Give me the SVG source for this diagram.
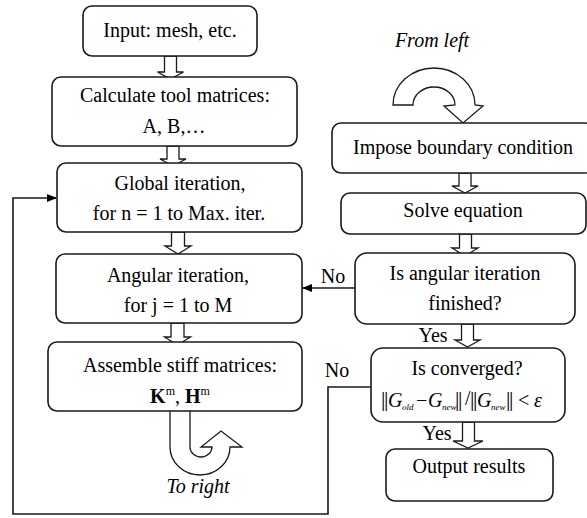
<svg xmlns="http://www.w3.org/2000/svg" width="587" height="518" viewBox="0 0 587 518">
<style>
.box{fill:#fff;stroke:#1a1a1a;stroke-width:1.6}
text{font-family:'Liberation Serif','DejaVu Serif',serif;font-size:20px;fill:#000}
.t{text-anchor:middle}
.ti{font-style:italic}
.hol{fill:#fff;stroke:#1a1a1a;stroke-width:1.3;stroke-linejoin:miter}
.ln{fill:none;stroke:#1a1a1a;stroke-width:1.6}
.fi{font-style:italic}
.fs{font-size:9px;font-style:italic}
.bar{font-size:22px}
</style>
<defs>
<marker id="ah" markerWidth="10" markerHeight="10" refX="9" refY="5" orient="auto" markerUnits="userSpaceOnUse"><path d="M0,1 L10,5 L0,9 Z" fill="#000"/></marker>
</defs>

<g id="connectors">
<path class="hol" d="M164.5,56 V72 H157.5 L170.5,79 L183.5,72 H176.5 V56 Z"/>
<path class="hol" d="M167,146 V159 H160 L173,166 L186,159 H179 V146 Z"/>
<path class="hol" d="M171.5,232 V246 H165 L178,254 L191,246 H184.5 V232 Z"/>
<path class="hol" d="M171,323 V337 H164.5 L177.5,345 L190.5,337 H184 V323 Z"/>
<path class="hol" d="M170,411 L170,447 A30,28 0 0 0 230,447 L242,447 L221,431 L201,447 L212,447 A11,10 0 0 1 190,447 L190,411"/>
<path class="hol" d="M393,105 A41,37 0 0 1 475,105 L483,106 L463,123 L444,106 L455,105 A21,18 0 0 0 413,105 Z"/>
<path class="hol" d="M459,173 V186 H452 L465,193 L478,186 H471 V173 Z"/>
<path class="hol" d="M459.5,234 V248 H452 L465,256 L478,248 H471.5 V234 Z"/>
<path class="hol" d="M461.5,324 V340 H455 L467.5,347 L480,340 H473.5 V324 Z"/>
<path class="hol" d="M462.5,422 V441 H453 L468,448 L483,441 H474.5 V422 Z"/>
<line class="ln" x1="355" y1="288" x2="303" y2="288" marker-end="url(#ah)"/>
<polyline class="ln" points="371,387 328,387 328,514 13,514 13,198 56,198" marker-end="url(#ah)"/>
</g>

<g id="input"><rect class="box" x="83" y="6" width="174" height="50" rx="9"/><text class="t" x="170" y="37">Input: mesh, etc.</text></g>
<g id="calc"><rect class="box" x="52" y="77" width="245" height="69" rx="9"/><text class="t" x="175" y="102">Calculate tool matrices:</text><text class="t" x="174" y="133">A, B,…</text></g>
<g id="global"><rect class="box" x="57" y="163" width="245" height="69" rx="9"/><text class="t" x="180" y="190">Global iteration,</text><text class="t" x="179" y="220">for n = 1 to Max. iter.</text></g>
<g id="angular"><rect class="box" x="56" y="254" width="246" height="69" rx="9"/><text class="t" x="178" y="282">Angular iteration,</text><text class="t" x="178" y="312">for j = 1 to M</text></g>
<g id="assemble"><rect class="box" x="48" y="342" width="254" height="69" rx="9"/><text class="t" x="180" y="372">Assemble stiff matrices:</text><text class="t" x="180" y="403"><tspan font-weight="bold">K</tspan><tspan font-size="12" dy="-8">m</tspan><tspan dy="8">, </tspan><tspan font-weight="bold">H</tspan><tspan font-size="12" dy="-8">m</tspan></text></g>
<g id="toright"><text class="t ti" x="198" y="493">To right</text></g>
<g id="fromleft"><text class="t ti" x="432" y="47">From left</text></g>
<g id="impose"><rect class="box" x="332" y="123" width="262" height="50" rx="9"/><text class="t" x="463" y="154">Impose boundary condition</text></g>
<g id="solve"><rect class="box" x="341" y="193" width="245" height="41" rx="9"/><text class="t" x="463" y="217">Solve equation</text></g>
<g id="isangular"><rect class="box" x="355" y="253" width="220" height="71" rx="12"/><text class="t" x="465" y="280">Is angular iteration</text><text class="t" x="465" y="310">finished?</text></g>
<g id="converged"><rect class="box" x="371" y="348" width="194" height="74" rx="12"/><text class="t" x="467" y="375">Is converged?</text>
<text class="bar" x="381" y="406">|</text><text class="bar" x="384" y="406">|</text>
<text class="fi" x="388" y="407">G</text><text class="fs" x="402" y="410">old</text><text x="416" y="407">−</text><text class="fi" x="428" y="407">G</text><text class="fs" x="442" y="410">new</text>
<text class="bar" x="455" y="406">|</text><text class="bar" x="458" y="406">|</text><text x="465" y="405" font-size="13">/</text>
<text class="bar" x="470" y="406">|</text><text class="bar" x="473" y="406">|</text>
<text class="fi" x="477" y="407">G</text><text class="fs" x="491" y="410">new</text>
<text class="bar" x="506" y="406">|</text><text class="bar" x="509" y="406">|</text>
<text x="518" y="407">&lt;</text><text class="fi" x="534" y="407">ε</text></g>
<g id="output"><rect class="box" x="386" y="449" width="167" height="52" rx="9"/><text class="t" x="469" y="473">Output results</text></g>
<g id="labels"><text class="t" x="333" y="283">No</text><text class="t" x="433" y="342">Yes</text><text class="t" x="337" y="377">No</text><text class="t" x="437" y="440">Yes</text></g>
</svg>
